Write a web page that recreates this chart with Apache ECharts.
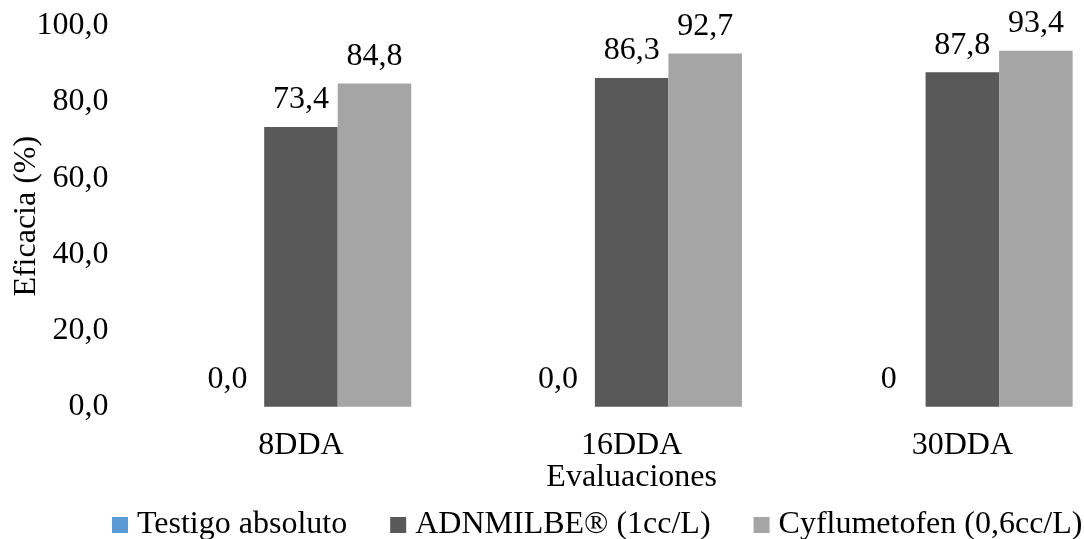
<!DOCTYPE html>
<html>
<head>
<meta charset="utf-8">
<script src="https://cdn.jsdelivr.net/npm/echarts@6/dist/echarts.min.js"></script>
<style>
  html, body { margin: 0; padding: 0; background: #ffffff; }
  #chart { width: 1084px; height: 539px; }
</style>
</head>
<body>
<div id="chart"></div>
<script>
// Evaluation dates (days after application)
const categories = ['8DDA', '16DDA', '30DDA'];

// Efficacy (%) per treatment
const testigoValues = [0, 0, 0];
const adnmilbeValues = [73.4, 86.3, 87.8];
const cyflumetofenValues = [84.8, 92.7, 93.4];

// Value labels printed over the control bars
const testigoLabels = ['0,0', '0,0', '0'];

const seriesNames = ['Testigo absoluto', 'ADNMILBE\u00AE (1cc/L)', 'Cyflumetofen (0,6cc/L)'];
const seriesColors = ['#5B9BD5', '#595959', '#A5A5A5'];

const yTicks = { min: 0, max: 100, interval: 20 };

const FONT = '"Liberation Serif", "Times New Roman", serif';
const FS = 32;

function commaFmt(v) {
  return v.toFixed(1).replace('.', ',');
}

const labelBase = {
  show: true,
  position: 'top',
  distance: 11,
  color: '#000',
  fontFamily: FONT,
  fontSize: FS
};

const chart = echarts.init(document.getElementById('chart'), null, { renderer: 'canvas' });

chart.setOption({
  animation: false,
  backgroundColor: '#ffffff',
  textStyle: { fontFamily: FONT, color: '#000' },
  grid: {
    left: 135.6,
    right: -43.7,
    top: 25.7,
    bottom: 132.3,
    containLabel: false,
    outerBoundsMode: 'none'
  },
  legend: {
    data: seriesNames,
    left: 112,
    top: 509,
    padding: 0,
    itemGap: 43,
    itemWidth: 16,
    itemHeight: 16,
    icon: 'rect',
    textStyle: { fontFamily: FONT, fontSize: FS, color: '#000', padding: [0, 0, 0, 4] }
  },
  xAxis: {
    type: 'category',
    data: categories,
    name: 'Evaluaciones',
    nameLocation: 'middle',
    nameGap: 55,
    nameMoveOverlap: false,
    nameTextStyle: { fontFamily: FONT, fontSize: FS, color: '#000' },
    axisLine: { show: false },
    axisTick: { show: false },
    axisLabel: { fontFamily: FONT, fontSize: FS, color: '#000', margin: 23 },
    splitLine: { show: false }
  },
  yAxis: {
    type: 'value',
    min: yTicks.min,
    max: yTicks.max,
    interval: yTicks.interval,
    name: 'Eficacia (%)',
    nameLocation: 'middle',
    nameGap: 93,
    nameMoveOverlap: false,
    nameTextStyle: { fontFamily: FONT, fontSize: FS, color: '#000' },
    axisLine: { show: false },
    axisTick: { show: false },
    splitLine: { show: false },
    axisLabel: {
      fontFamily: FONT, fontSize: FS, color: '#000', margin: 27,
      formatter: function (v) { return commaFmt(v); }
    }
  },
  series: [
    {
      name: seriesNames[0],
      type: 'bar',
      data: testigoValues,
      itemStyle: { color: seriesColors[0] },
      barGap: '0%',
      barCategoryGap: '33.3%',
      label: Object.assign({}, labelBase, {
        formatter: function (p) { return testigoLabels[p.dataIndex]; }
      })
    },
    {
      name: seriesNames[1],
      type: 'bar',
      data: adnmilbeValues,
      itemStyle: { color: seriesColors[1] },
      barGap: '0%',
      barCategoryGap: '33.3%',
      label: Object.assign({}, labelBase, {
        formatter: function (p) { return commaFmt(p.value); }
      })
    },
    {
      name: seriesNames[2],
      type: 'bar',
      data: cyflumetofenValues,
      itemStyle: { color: seriesColors[2] },
      barGap: '0%',
      barCategoryGap: '33.3%',
      label: Object.assign({}, labelBase, {
        formatter: function (p) { return commaFmt(p.value); }
      })
    }
  ]
});
</script>
</body>
</html>
